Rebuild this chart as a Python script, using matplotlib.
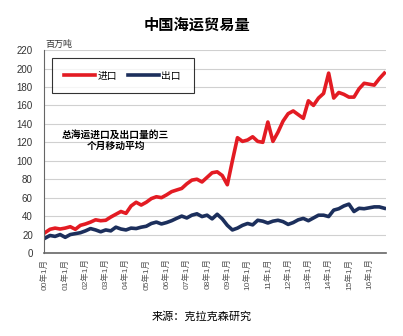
import matplotlib
matplotlib.use('Agg')
import matplotlib.pyplot as plt
import numpy as np

# Fonts: Arial-like digits, CJK fallback for Chinese
plt.rcParams['font.family'] = ['Liberation Sans', 'Noto Sans CJK SC']

# Quarterly readings (three-month moving average), Jan 2000 onwards, million tonnes
imports = [22, 25.7, 27, 26, 27, 28.5, 25.7, 30,
           31.5, 33.5, 36, 35, 35.5, 39, 42, 45,
           43, 51, 55, 52, 55, 59, 61, 60,
           63, 66.5, 68.3, 70, 75, 79, 80, 77,
           82, 87, 88, 84, 74, 100, 125, 121,
           122.5, 126, 121, 120, 142, 121, 131, 143,
           151, 154, 150, 146, 165, 160, 168, 173,
           195, 168, 174, 172, 169, 169, 178, 184,
           183, 182, 189, 195]
exports = [16, 19, 18, 20, 17, 20, 21, 22,
           24, 26.5, 25, 23, 25, 24, 28, 26,
           25, 27, 26.5, 28, 29, 32, 33.5, 31.5,
           33, 35, 37.6, 40, 38, 41, 42.5, 39.5,
           41, 37, 42, 37, 30, 25, 27, 30,
           32, 30.5, 35.5, 34.5, 32.5, 34.5, 35.5, 34,
           31, 33, 36, 37.5, 35, 38, 41, 41,
           39.5, 46.5, 48, 51, 53, 45, 48.5, 48,
           49, 50, 50, 48.5]
months = np.arange(len(imports)) * 3
tick_labels = [f'{y:02d}年1月' for y in range(0, 17)]

fig = plt.figure(figsize=(4.03, 3.36), dpi=100)
ax = fig.add_axes([0.109, 0.247, 0.849, 0.604])

ax.plot(months, imports, color='#e31b23', lw=2.6, label='进口', solid_joinstyle='round')
ax.plot(months, exports, color='#1c2f5c', lw=2.6, label='出口', solid_joinstyle='round')

ax.set_ylim(0, 220)
ax.set_xlim(-0.6, 202)
ax.set_yticks(range(0, 221, 20))
ax.set_xticks(range(0, 193, 12))
ax.set_xticklabels(tick_labels, rotation=90, fontsize=6, color='#555555')
ax.tick_params(axis='y', labelsize=7, colors='#333333', length=0, pad=8)
ax.tick_params(axis='x', length=0, pad=4)

ax.grid(axis='y', color='#d0d0d0', lw=0.8)
ax.set_axisbelow(True)
for s in ['top', 'right']:
    ax.spines[s].set_visible(False)
ax.spines['left'].set_color('#666666')
ax.spines['bottom'].set_color('#666666')
ax.spines['bottom'].set_linewidth(1.2)

leg = ax.legend(loc='upper left', bbox_to_anchor=(0.008, 0.985), ncol=2,
                fontsize=7, frameon=True, fancybox=False, edgecolor='black',
                handlelength=3.2, columnspacing=1.2, borderpad=1.3,
                handletextpad=0.2)
leg.get_frame().set_linewidth(0.8)

ax.text(0.21, 0.555, '总海运进口及出口量的三\n个月移动平均', transform=ax.transAxes,
        ha='center', va='center', fontsize=7, fontweight='bold', linespacing=1.2)

fig.text(0.49, 0.925, '中国海运贸易量', ha='center', va='center',
         fontsize=11, fontweight='bold')
fig.text(0.112, 0.868, '百万吨', ha='left', va='center', fontsize=6.5, color='#333333')
fig.text(0.5, 0.057, '来源：克拉克森研究', ha='center', va='center', fontsize=8)

fig.savefig('out.png', dpi=100)
plt.close()
